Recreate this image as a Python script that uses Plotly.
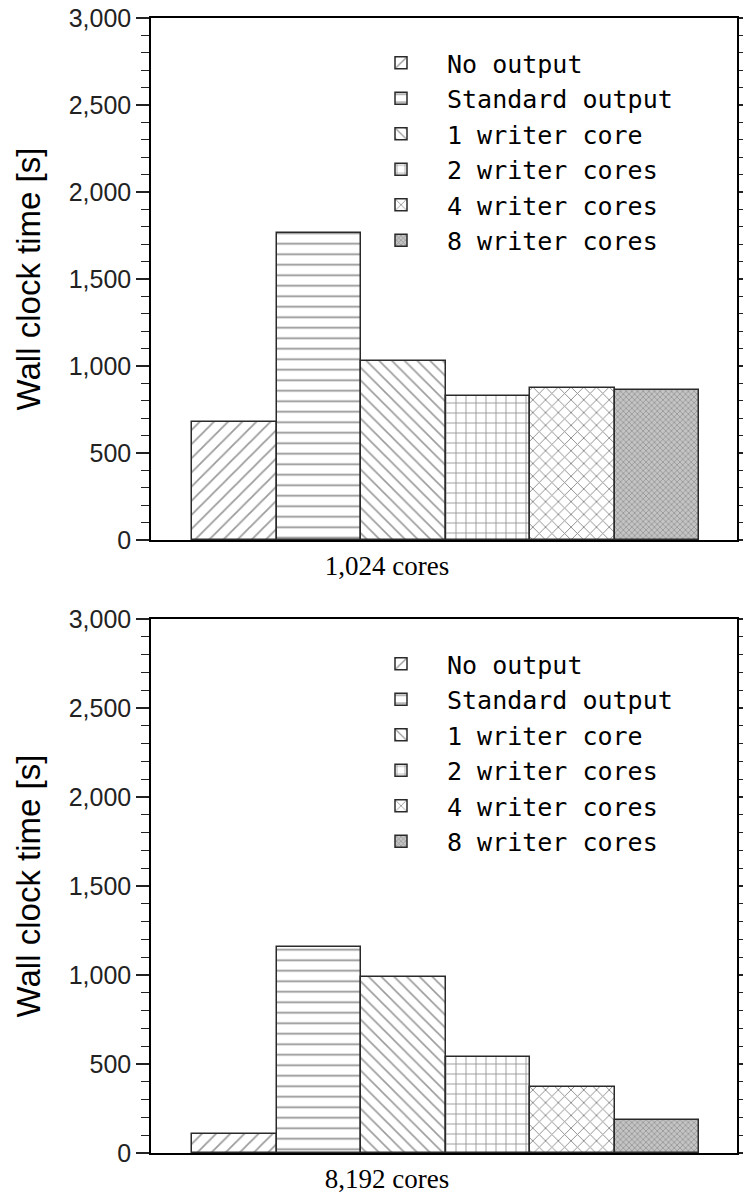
import plotly.graph_objects as go

# Output configurations compared in each run
series = ["No output", "Standard output", "1 writer core",
          "2 writer cores", "4 writer cores", "8 writer cores"]
core_counts = ["1,024 cores", "8,192 cores"]

# Wall clock time [s] per configuration
times_1024 = [680, 1766, 1030, 829, 872, 862]
times_8192 = [105, 1155, 986, 539, 369, 187]

y_tick_vals = [0, 500, 1000, 1500, 2000, 2500, 3000]
y_tick_text = ["0", "500", "1,000", "1,500", "2,000", "2,500", "3,000"]

# hatch style for each configuration
patterns = [
    dict(shape="/", size=10, solidity=0.18, fgcolor="#3a3a3a", bgcolor="white"),
    dict(shape="-", size=10.5, solidity=0.17, fgcolor="#2a2a2a", bgcolor="white"),
    dict(shape="\\", size=9, solidity=0.18, fgcolor="#3a3a3a", bgcolor="white"),
    dict(shape="+", size=10, solidity=0.17, fgcolor="#2a2a2a", bgcolor="white"),
    dict(shape="x", size=9, solidity=0.2, fgcolor="#1a1a1a", bgcolor="white"),
    dict(shape="x", size=4, solidity=0.32, fgcolor="#555", bgcolor="#c4c4c4"),
]

W, H = 743, 1194
ML, MR, MT, MB = 151, 6, 18, 41
plot_w = W - ML - MR
plot_h = H - MT - MB

def py(pix):
    return (H - MB - pix) / plot_h

top_dom = [py(540), 1.0]
bot_dom = [0.0, py(619)]

bar_w = 84.5 / plot_w
group_left = (192 - ML) / plot_w - 0.5
label_x = (387 - ML) / plot_w - 0.5

fig = go.Figure()
panels = [(times_1024, "x", "y", "legend"), (times_8192, "x2", "y2", "legend2")]
for vals, xa, ya, lg in panels:
    for i, (name, v) in enumerate(zip(series, vals)):
        fig.add_trace(go.Bar(
            x=[0], y=[v], name=name,
            width=[bar_w], offset=[group_left + i * bar_w],
            xaxis=xa, yaxis=ya, legend=lg,
            marker=dict(color="white", pattern=patterns[i],
                        line=dict(color="#2a2a2a", width=1.5)),
        ))

xaxis_style = dict(
    range=[-0.5, 0.5], showline=True, linecolor="black", linewidth=1.5,
    mirror=True, ticks="", showgrid=False, zeroline=False, automargin=False,
    tickfont=dict(family="Liberation Serif", size=27, color="black"),
    ticklabelstandoff=1,
)
yaxis_style = dict(
    range=[0, 3000], tickvals=y_tick_vals, ticktext=y_tick_text,
    showline=True, linecolor="black", linewidth=1.5, mirror="ticks",
    ticks="outside", ticklen=13, tickwidth=1.5, tickcolor="#222",
    minor=dict(ticks="outside", ticklen=8, dtick=100, tickwidth=1.2,
               tickcolor="#222"),
    showgrid=False, zeroline=False, automargin=False,
    tickfont=dict(family="Liberation Sans", size=25, color="#222"),
    title=dict(text="Wall clock time [s]", standoff=18,
               font=dict(family="Liberation Sans", size=33, color="black")),
)

legend_style = dict(
    font=dict(family="DejaVu Sans Mono", size=25, color="black"),
    bgcolor="rgba(0,0,0,0)", xanchor="left", yanchor="top",
    x=(355 - ML) / plot_w, traceorder="normal", itemwidth=82,
)

fig.update_layout(
    width=W, height=H,
    margin=dict(l=ML, r=MR, t=MT, b=MB, autoexpand=False),
    paper_bgcolor="white", plot_bgcolor="white",
    barmode="overlay", bargap=0,
    xaxis=dict(anchor="y", domain=[0, 1], tickvals=[label_x],
               ticktext=[core_counts[0]], **xaxis_style),
    yaxis=dict(anchor="x", domain=top_dom, **yaxis_style),
    xaxis2=dict(anchor="y2", domain=[0, 1], tickvals=[label_x],
                ticktext=[core_counts[1]], **xaxis_style),
    yaxis2=dict(anchor="x2", domain=bot_dom, **yaxis_style),
    legend=dict(y=py(40), **legend_style),
    legend2=dict(y=py(641), **legend_style),
)

fig.write_html("out.html")
